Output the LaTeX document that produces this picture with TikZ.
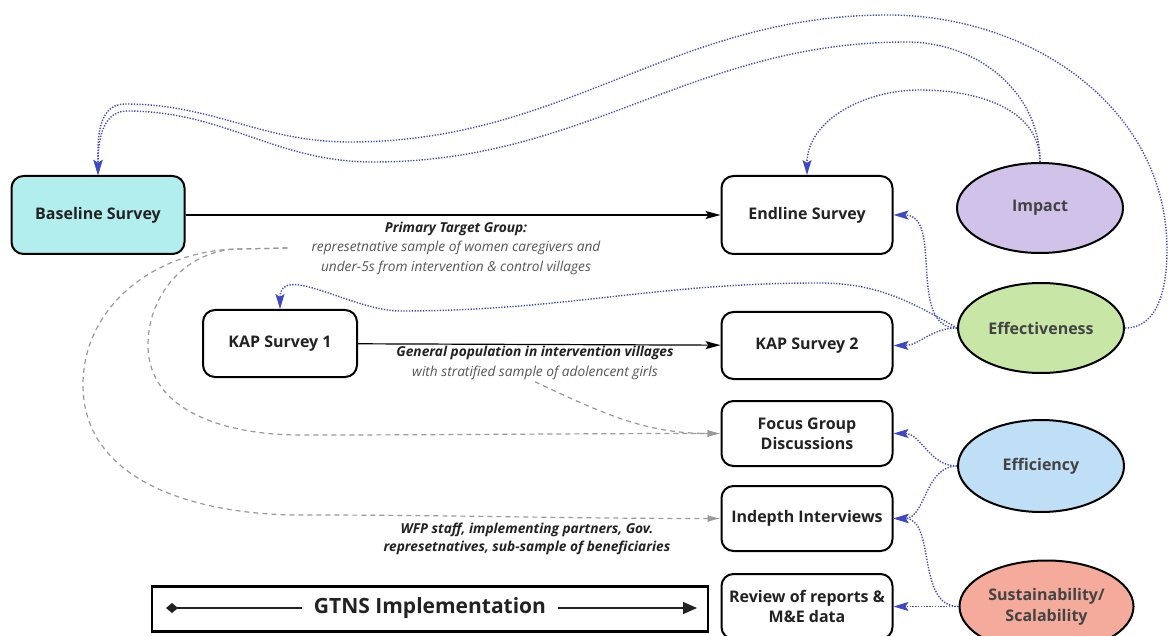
\documentclass[tikz,border=0pt]{standalone}
\usepackage{fontspec}
\setmainfont{Open Sans}
\usepackage{tikz}
\usetikzlibrary{arrows.meta, positioning, shapes.geometric}
\definecolor{basecol}{HTML}{B3EEEE}
\definecolor{impactcol}{HTML}{D1C2EA}
\definecolor{effectcol}{HTML}{C8E6A6}
\definecolor{efficcol}{HTML}{BEDFF6}
\definecolor{sustcol}{HTML}{F4AB9B}
\definecolor{linkblue}{HTML}{3F48C4}
\definecolor{lblgray}{HTML}{555555}
\definecolor{boxtext}{HTML}{222222}
\tikzset{
survey/.style={draw, line width=2pt, rounded corners=12pt, minimum width=171pt, minimum height=65pt, align=center, text=boxtext, font=\fontsize{16}{20}\selectfont\bfseries}, % the data collection boxes
criterion/.style={ellipse, draw, line width=2pt, minimum width=166pt, minimum height=90pt, align=center, text=boxtext!85, font=\fontsize{16}{21}\selectfont\bfseries}, % the evaluation criteria
flow/.style={-{Stealth[length=15pt,width=8pt,inset=3pt]}, line width=1.2pt}, % solid arrows between surveys
link/.style={-{Stealth[length=15pt,width=9pt,inset=3pt]}, linkblue, line width=1.4pt, dash pattern=on 1.3pt off 1.5pt}, % criteria to methods
sample/.style={-{Latex[length=13pt,width=7pt]}, gray!80, line width=1.2pt, dash pattern=on 5pt off 4pt}, % sample groups
lbl/.style={align=center, inner sep=2pt, text=boxtext, font=\fontsize{13.7}{19.5}\selectfont\itshape}, % arrow labels
}

\begin{document}
\begin{tikzpicture}[x=1pt, y=-1pt]
    \useasboundingbox (0,0) rectangle (1170,636);
    \node[survey, fill=basecol, minimum width=173pt, minimum height=78pt] (base) at (98,215) {Baseline Survey};
    \node[survey, minimum height=78pt] (endline) at (807,215) {Endline Survey};
    \node[survey, minimum height=67pt, below=56pt of endline] (kaptwo) {KAP Survey 2};
    \node[survey, minimum width=154pt, minimum height=67pt] (kapone) at (280,343.5) {KAP Survey 1};
    \node[survey, below=20pt of kaptwo] (fgd) {Focus Group\\Discussions};
    \node[survey, below=18pt of fgd] (idi) {Indepth Interviews};
    \node[survey, below=21pt of idi] (review) {Review of reports \&\\M\&E data};

    \node[criterion, fill=impactcol] (impact) at (1040,208) {Impact};
    \node[criterion, fill=effectcol] (effect) at (1041,328) {Effectiveness};
    \node[criterion, fill=efficcol, minimum height=92pt] (effic) at (1041,466) {Efficiency};
    \node[criterion, fill=sustcol, minimum height=92pt, right=65pt of review] (sustain) {Sustainability/\\Scalability};

    \node[lbl] (primlbl) at (456,248) {\bfseries Primary Target Group:\\
        \textcolor{lblgray}{represetnative sample of women caregivers and}\\
        \textcolor{lblgray}{under-5s from intervention \& control villages}};
    \node[lbl] (genlbl) at (535,363) {\bfseries General population in intervention villages\\
        \textcolor{lblgray}{with stratified sample of adolencent girls}};
    \node[lbl, font=\fontsize{13.7}{18.5}\selectfont\itshape\bfseries] (stafflbl) at (527,539) {WFP staff, implementing partners, Gov.\\
        represetnatives, sub-sample of beneficiaries};
    \coordinate (sampstart) at ([xshift=-22pt]primlbl.west);

    % timeline box
    \node[draw, line width=2.2pt, minimum width=556pt, minimum height=45pt] (gtns) at (430,609) {};
    \node[inner xsep=12pt, text=boxtext, font=\fontsize{21}{24}\selectfont\bfseries] (gtnslbl) at (430,608) {GTNS Implementation};
    \coordinate (gtnsl) at (166,608);
    \coordinate (gtnsr) at (697,608);
    \draw[{Diamond[length=12pt,width=10pt]}-, line width=1.2pt, boxtext] (gtnsl) -- (gtnslbl);
    \draw[-{Triangle[length=14pt,width=12pt]}, line width=1.2pt, boxtext] (gtnslbl) -- (gtnsr);

    \draw[flow] (base) -- (endline);
    \draw[flow] (kapone) -- (kaptwo);

    \draw[sample] (sampstart) -- (240,249) to[out=180,in=90] (148,345) to[out=-90,in=180] (300,435) to[out=0,in=180] (fgd.west);
    \draw[sample] (sampstart) -- (240,249) to[out=180,in=90] (83,385) to[out=-90,in=180] (300,515) to[out=0,in=180] (idi.west);
    \draw[sample] (genlbl.south) to[out=-25,in=180] (fgd.west);

    \draw[link] (impact.north) to[out=90,in=0] (920,90) to[out=180,in=90] (endline.north);
    \draw[link] (impact.north) to[out=90,in=0] (907,42) to[out=180,in=0] (373,162) to[out=180,in=0] (127,111) to[out=180,in=90] (base.north);
    \draw[link] (effect.east) to[out=0,in=-90] (1167,250) to[out=90,in=0] (888,15) to[out=180,in=0] (350,142) to[out=180,in=0] (125,104) to[out=180,in=90] (base.north);
    \draw[link] (effect.west) to[out=180,in=0] (endline.east);
    \draw[link] (effect.west) to[out=180,in=0] (kaptwo.east);
    \draw[link] (effect.west) to[out=150,in=0] (818,283) to[out=180,in=0] (400,311) to[out=180,in=90] (kapone.north);
    \draw[link] (effic.west) to[out=180,in=0] (fgd.east);
    \draw[link] (effic.west) to[out=180,in=0] (idi.east);
    \draw[link] (sustain.west) to[out=180,in=0] (idi.east);
    \draw[link] (sustain.west) -- (review.east);
\end{tikzpicture}
\end{document}
